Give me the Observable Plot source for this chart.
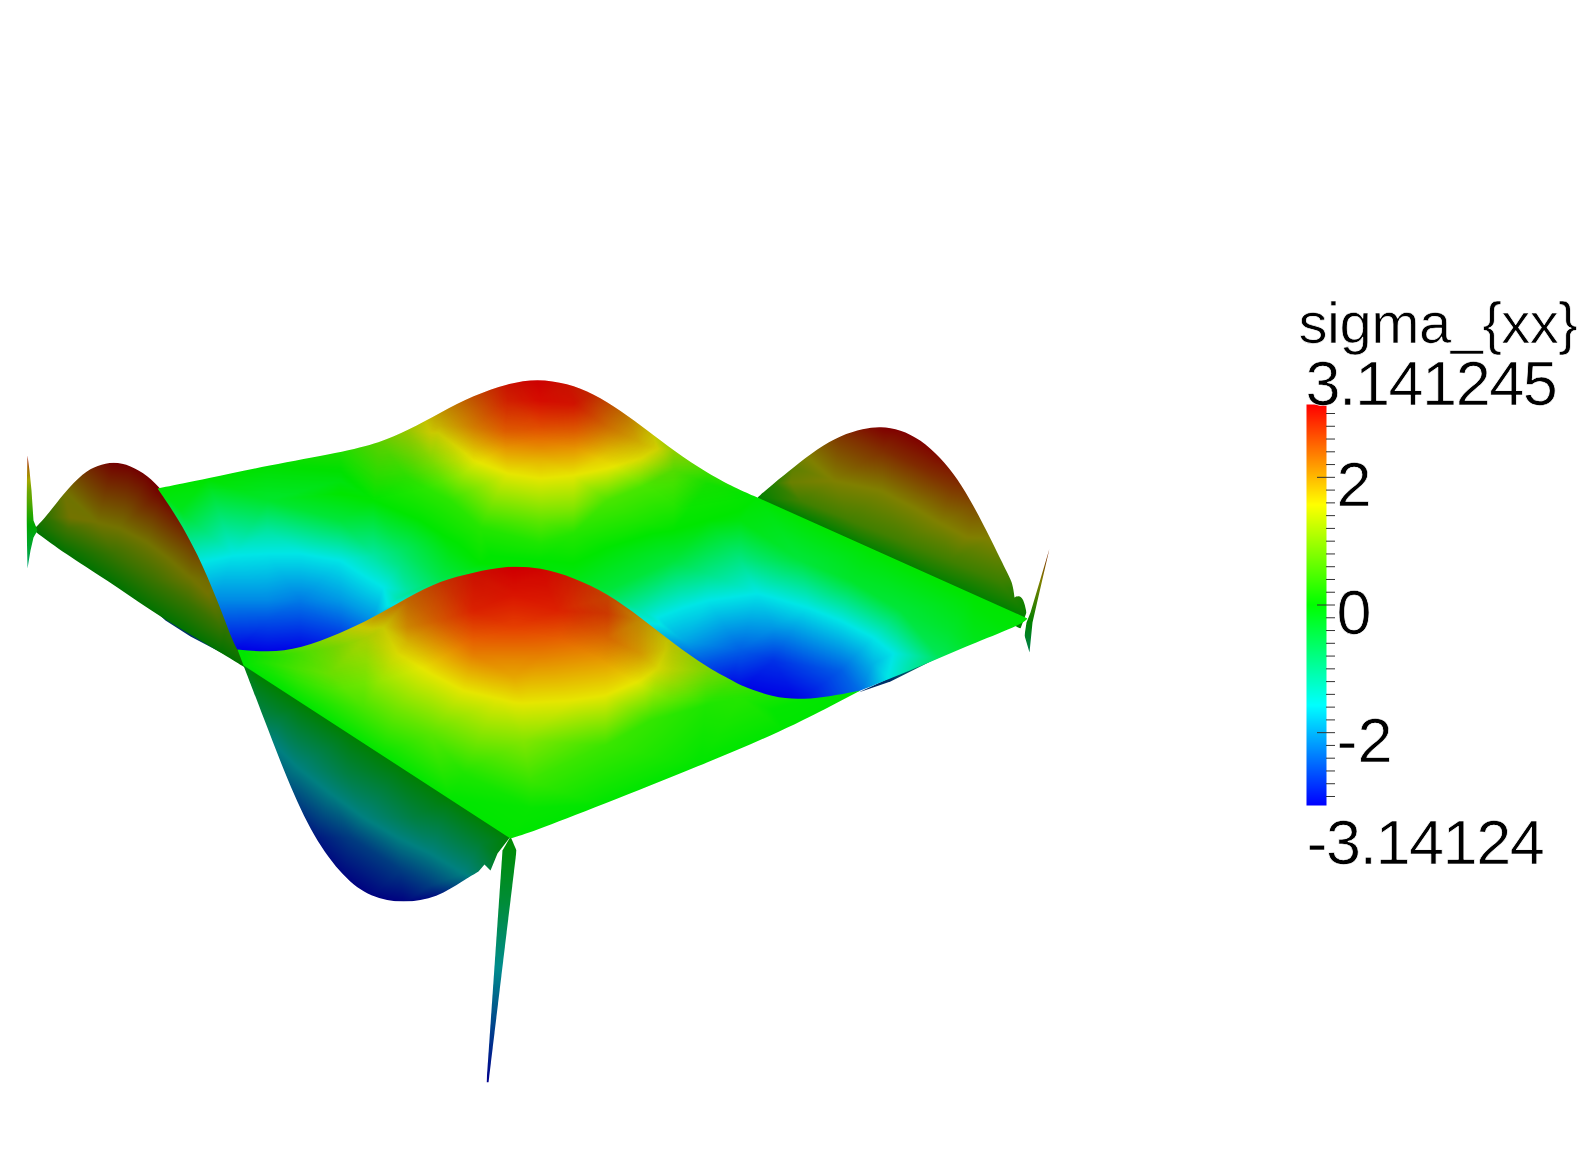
<!DOCTYPE html>
<html>
<head>
<meta charset="utf-8">
<style>
html,body{margin:0;padding:0;background:#fff}
#stage{position:relative;width:1580px;height:1150px;overflow:hidden}
#stage svg{position:absolute;background:transparent;display:block}
.bar-title text{letter-spacing:-0.5px}
.bar-range text{letter-spacing:-1.5px}
</style>
<script src="https://cdn.jsdelivr.net/npm/d3@7"></script>
<script src="https://cdn.jsdelivr.net/npm/@observablehq/plot@0.6"></script>
</head>
<body>
<div id="stage"></div>
<script>
// Colour table of the field
const fieldStops = [-3.14124, -1.5706, 0, 1.5706, 3.141245];
const fieldColors = ["#0000ff", "#00ffff", "#00ff00", "#ffff00", "#ff0000"];
const fieldTitle = "sigma_{xx}";
const fieldMaxLabel = "3.141245";
const fieldMinLabel = "-3.14124";
const majorTicks = [2, 0, -2];
const minorTicks = [3,2.8,2.6,2.4,2.2,1.8,1.6,1.4,1.2,1,0.8,0.6,0.4,0.2,-0.2,-0.4,-0.6,-0.8,-1,-1.2,-1.4,-1.6,-1.8,-2.2,-2.4,-2.6,-2.8,-3];

// Surface samples: [scene x, scene y, sigma]
// Outlines are lists of arcs; every arc is drawn as one smooth curve.
const rightWallOutline = [
 [[757,497],[773,483],[793,467],[817,448],[840,435],[863,428],[880,426],[900,429],[920,439],[940,457],[957,478],[973,505],[990,538],[1007,573],[1012,582],[1014,597]],
 [[1014,597],[1018,595],[1023,598],[1026,612]],
 [[1026,612],[1020,628]],
 [[1020,628],[770,515]],
 [[770,515],[757,497]]];
const rightWallSamples = [[757,497,0],[800,516,0],[873,550,0],[950,585,0],[1027,618,0],
 [773,483,0.5],[793,467,1.15],[817,448,1.9],[840,435,2.5],[863,428,2.9],[883,427,3.14],[900,429,3.14],[920,439,3.14],[940,457,3],[957,478,2.7],[973,505,2.2],[990,538,1.57],[1007,573,0.9],[1012,582,0.7],[1023,598,0.3],
 [800,500,0.8],[850,520,0.8],[900,540,0.8],[950,560,0.8],[1000,582,0.7],
 [790,482,1.3],[833,480,1.57],[880,490,1.57],[913,507,1.57],[940,523,1.57],[967,537,1.57],
 [883,450,2.6],[925,470,2.6],[950,490,2.4]];

const leftWallOutline = [
 [[33,529],[45,517],[63,493],[83,472],[97,465],[113,461],[130,465],[147,475],[162,490],[179,513],[195,547],[212,580],[229,620],[244,660],[246,668]],
 [[246,668],[220,652],[183,630],[150,610],[107,580],[63,552],[37,533],[33,529]]];
const leftWallSamples = [[37,533,0],[63,552,0],[107,580,0],[150,610,0],[183,630,0],[220,652,0],[243,665,0],
 [45,517,0.6],[63,493,1.5],[83,472,2.4],[97,465,2.8],[113,462,3.14],[130,465,3.14],[147,475,3.14],[160,490,3.14],[177,513,2.9],[193,547,2.3],[210,580,1.7],[227,620,0.9],[242,660,0.2],
 [70,517,1.57],[97,522,1.57],[120,528,1.57],[147,542,1.57],[167,557,1.57],[190,577,1.57],[207,593,1.57],
 [67,528,0.9],[113,553,0.8],[153,580,0.8],[187,601,0.8],[220,625,0.8]];

const leftSliverOutline = [[155,611],[187,631],[222,651],[230,657],[190,636],[165,620]];
const leftSliverSamples = [[150,600,-2.2],[190,620,-2.4],[235,650,-1.6],[150,640,-2.2],[190,650,-2.4],[235,670,-1.6]];
const rightSliverOutline = [[858,692],[890,677],[950,651],[890,681]];
const rightSliverSamples = [[840,690,-2.6],[890,670,-2.4],[950,645,-0.4],[840,710,-2.6],[890,690,-2.4],[950,665,-0.4]];

const rearOutline = [
 [[157,488],[207,478],[267,465],[340,452],[380,442],[407,430],[440,412],[473,395],[507,383],[537,378],[567,383],[593,393],[620,410],[647,430],[673,450],[707,473],[740,490],[757,497]],
 [[757,497],[1027,618]],
 [[1027,618],[1023,623],[973,643],[940,657],[890,678],[860,690]],
 [[860,690],[830,700]],
 [[830,700],[740,720]],
 [[740,720],[250,668]],
 [[250,668],[237,649]],
 [[237,649],[233,643],[217,600],[197,553],[177,517],[157,488]]];
const rearSamples = [[157,488,0],[207,478,0],[267,465,0],[340,452,0.2],[380,442,0.7],[407,430,1.2],[440,412,1.9],[473,395,2.5],[507,383,3],[537,379,3.14],[567,383,3],[593,393,2.8],[620,410,2.3],[647,430,1.7],[673,450,1.1],[707,473,0.4],[757,497,0],[873,550,0],[973,597,0],[1027,618,0],
 [540,400,3.05],[540,427,2.6],[540,447,2.2],[540,460,1.9],[540,478,1.57],[540,500,1.1],[540,520,0.65],[540,543,0.2],[540,560,0],
 [430,432,1.57],[473,460,1.57],[507,473,1.57],[573,475,1.57],[607,468,1.57],[640,458,1.57],[657,448,1.57],
 [473,427,2.2],[440,425,1.75],[507,400,2.9],[573,403,3],[607,427,2.3],[640,443,1.8],[473,450,1.75],[607,453,1.8],[505,430,2.5],[575,430,2.5],
 [430,460,0.9],[407,477,0.3],[450,500,0.3],[480,527,0.25],[420,520,0],[400,550,-0.7],[450,550,-0.1],[340,520,-0.4],[340,493,0],[373,500,0],[440,533,0],[490,555,0],
 [573,507,0.9],[573,533,0.25],[607,500,0.5],[640,487,0.5],[673,470,0.6],[707,483,0.15],[640,520,0.2],[673,530,0],[707,520,0],[740,510,0],[607,547,0],[673,560,-0.4],[707,573,-0.9],[740,520,-0.1],[740,560,-0.9],[800,560,-0.4],[850,580,-0.3],[900,610,-0.4],[950,630,-0.3],[1000,625,-0.05],
 [267,500,-0.3],[267,530,-1.1],[200,562,-1.57],[233,555,-1.57],[267,553,-1.57],[300,553,-1.57],[340,560,-1.57],[360,573,-1.57],[383,587,-1.57],[373,555,-1.1],[400,565,-0.9],
 [180,510,-0.2],[340,480,-0.1],
 [267,600,-2.2],[267,620,-2.6],[267,652,-3.14],[237,649,-3.14],[233,643,-3],[217,600,-2.2],[300,648,-3.1],[340,633,-2.7],[373,617,-2.1],[397,598,-1.2],[407,590,-1.1],[440,578,-0.5],[480,563,0],[540,563,0],[573,575,-0.1],[607,590,-0.4],[640,610,-1.2],[657,617,-1.57],[683,640,-2],[707,663,-2.6],[730,680,-3],[797,702,-3.14],[740,690,-3.14],
 [340,600,-2.1],[300,600,-2.3],[757,593,-1.57],[707,600,-1.57],[683,607,-1.57],[773,597,-1.57],[807,607,-1.57],[840,620,-1.57],[873,637,-1.57],[893,653,-1.57],
 [773,660,-2.8],[773,627,-2.1],[740,650,-2.5],[840,670,-2.5],[873,663,-1.9],[860,692,-2.4],[890,680,-1.5],[910,672,-1.1],[940,658,-0.6],[973,643,-0.2],[1023,623,0]];
// Edge darkening of the rear bump: [scene x, scene y, shade]
const rearShade = [[340,452,0.04],[380,442,0.1],[407,430,0.14],[440,412,0.17],[473,395,0.17],[507,383,0.13],[537,379,0.11],[567,383,0.13],[593,393,0.17],[620,410,0.18],[647,430,0.15],[673,450,0.1],[707,473,0.04],[757,497,0],
 [375,500,0],[420,490,0],[460,475,0],[500,450,0],[537,440,0],[580,450,0],[620,470,0],[650,490,0],[680,510,0],[157,488,0],[1027,618,0],[540,560,0]];

const frontOutline = [
 [[237,649],[267,652],[300,648],[340,633],[373,617],[407,597],[440,580],[473,572],[507,565],[540,567],[573,577],[607,593],[640,617],[673,643],[707,667],[730,679],[740,685],[773,697],[797,699],[823,697],[860,690]],
 [[860,690],[837,702]],
 [[837,702],[783,730],[700,765],[600,805],[530,832],[510,838]],
 [[510,838],[243,665]],
 [[243,665],[237,649]]];
const frontSamples = [[243,665,0],[300,702,0],[380,755,0],[450,800,0],[510,838,0],[600,805,0],[700,765,0],[783,730,0],[837,702,0],[860,692,0],[797,702,0.02],[773,710,0.02],
 [243,653,0],[267,657,0.2],[300,657,0.5],[333,647,0.85],[367,637,1.3],[373,620,1.8],[407,600,2.3],[440,582,2.7],[473,574,3],[513,570,3.14],[540,570,3.1],[573,580,2.9],[607,597,2.6],[640,620,2],[673,647,1.45],[707,670,0.9],[730,682,0.5],[740,697,0.25],
 [513,593,3],[513,627,2.7],[513,660,2.2],[513,677,2],[513,702,1.57],[397,653,1.57],[430,673,1.57],[463,690,1.57],[497,698,1.57],[523,703,1.57],[570,700,1.57],[605,695,1.57],[640,680,1.57],[657,668,1.57],[383,627,1.57],
 [440,620,2.5],[407,643,1.8],[407,627,2.1],[473,653,2.3],[540,653,2.3],[607,637,2.4],[640,653,2],[473,610,2.9],[557,610,2.9],[607,613,2.7],
 [523,740,0.9],[530,780,0.4],[530,807,0.05],[523,830,0],[363,707,0.5],[330,673,0.75],[297,668,0.5],[263,662,0.2],[397,707,0.8],[430,733,0.6],[463,773,0.2],[605,745,0.4],[705,705,0.2],[650,720,0.35]];
const frontShade = [[300,648,0.04],[340,633,0.1],[373,617,0.16],[407,597,0.18],[440,580,0.16],[473,572,0.12],[513,566,0.1],[540,567,0.1],[573,577,0.12],[607,593,0.16],[640,617,0.18],[673,643,0.16],[707,667,0.08],[730,679,0.04],[797,699,0],
 [330,690,0],[385,680,0],[430,665,0],[470,640,0],[513,630,0],[560,640,0],[600,660,0],[630,680,0],[670,700,0],[243,665,0],[510,838,0],[837,702,0]];

const frontWallOutline = [
 [[243,665],[263,717],[287,780],[313,837],[343,877],[370,897],[403,903],[437,897],[463,880],[478,871]],
 [[478,871],[484,864]],[[484,864],[490,870]],[[490,870],[497,853]],[[497,853],[510,836]],
 [[510,836],[510,820]],[[510,820],[270,665]],[[270,665],[243,665]]];
const frontWallSamples = [[243,665,-0.2],[255,673,0],[300,702,0],[350,733,0],[400,765,0],[450,797,0],[510,835,0],
 [263,717,-0.9],[287,780,-2],[313,837,-2.9],[343,877,-3.1],[370,897,-3.14],[403,903,-3.14],[437,897,-3],[463,880,-1.9],[483,870,-1],[490,870,-0.7],[497,853,-0.3],
 [280,720,-0.8],[347,773,-0.8],[413,817,-0.8],[480,843,-0.6],
 [273,743,-1.57],[297,767,-1.57],[330,793,-1.57],[363,817,-1.57],[397,837,-1.57],[430,853,-1.57],[463,873,-1.57],
 [300,806,-2.4],[350,837,-2.4],[400,869,-2.4],[430,885,-2.4]];

const spikeOutlineLeft = [[27,455],[29,470],[31,490],[33,520],[37,530],[33,537],[30,550],[27,568],[26,520],[26,497]];
const spikeSamplesLeft = [[27,455,3],[29,470,2],[27,497,0.9],[31,490,1],[34,525,0],[26,525,0],[30,550,-0.5],[27,568,-1.2],[40,500,1],[40,570,-1.2],[15,500,1],[15,570,-1.2],[15,455,3],[40,455,3]];
const spikeOutlineBottom = [[510,836],[516,850],[488,1082],[486,1082],[502,850]];
const spikeSamplesBottom = [[500,838,0],[525,838,0],[500,900,-0.6],[525,900,-0.6],[480,990,-1.9],[510,990,-1.9],[475,1082,-3.14],[500,1082,-3.14]];
const spikeOutlineRight = [[1049,548],[1032,622],[1029,652],[1024,635],[1026,622],[1030,612]];
const spikeSamplesRight = [[1040,548,2.8],[1055,548,2.8],[1022,622,0],[1040,622,0],[1022,652,-1],[1040,652,-1]];

const colorOptions = {type: "linear", domain: fieldStops, range: fieldColors, interpolate: "rgb", clamp: true};

function outlinePath(outline, scales) {
  const px = d => scales.x(d[0]), py = d => scales.y(d[1]);
  if (typeof outline[0][0] === "number") return d3.line().x(px).y(py).curve(d3.curveLinearClosed)(outline);
  const smooth = d3.line().x(px).y(py).curve(d3.curveBasis);
  return outline.map((arc, i) => { const s = smooth(arc); return i ? "L" + s.slice(1) : s; }).join("") + "Z";
}
let clipCount = 0;
function clipped(outline, brightness) {
  return function (index, scales, values, dimensions, context, next) {
    const g = next(index, scales, values, dimensions, context);
    const id = "surface-clip-" + (++clipCount);
    const cp = document.createElementNS("http://www.w3.org/2000/svg", "clipPath");
    cp.setAttribute("id", id);
    const p = document.createElementNS("http://www.w3.org/2000/svg", "path");
    p.setAttribute("d", outlinePath(outline, scales));
    cp.appendChild(p);
    g.appendChild(cp);
    g.querySelector("image").setAttribute("clip-path", `url(#${id})`);
    if (brightness != null) g.style.filter = `brightness(${brightness})`;
    return g;
  };
}
const patch = (samples, outline, brightness) => Plot.raster(samples, {
  x: d => d[0], y: d => d[1], fill: d => d[2],
  interpolate: "barycentric",
  render: clipped(outline, brightness)
});
const shadePatch = (samples, outline) => Plot.raster(samples, {
  x: d => d[0], y: d => d[1], fill: "black", fillOpacity: d => d[2],
  interpolate: "barycentric",
  render: clipped(outline)
});

const surface = Plot.plot({
  width: 1580, height: 1150, margin: 0,
  x: {domain: [0, 1580], axis: null},
  y: {domain: [1150, 0], axis: null},
  color: colorOptions,
  opacity: {domain: [0, 1], range: [0, 1]},
  marks: [
    patch(rightWallSamples, rightWallOutline, 0.5),
    patch(leftSliverSamples, leftSliverOutline, 0.4),
    patch(leftWallSamples, leftWallOutline, 0.45),
    patch(spikeSamplesLeft, spikeOutlineLeft, 0.65),
    patch(spikeSamplesRight, spikeOutlineRight, 0.5),
    patch(rightSliverSamples, rightSliverOutline, 0.4),
    patch(rearSamples, rearOutline, 0.9),
    shadePatch(rearShade, rearOutline),
    patch(frontWallSamples, frontWallOutline, 0.5),
    patch(spikeSamplesBottom, spikeOutlineBottom, 0.55),
    patch(frontSamples, frontOutline, 0.9),
    shadePatch(frontShade, frontOutline)
  ]
});
surface.style.left = "0px"; surface.style.top = "0px";

const labelFont = {fontFamily: "Liberation Sans, sans-serif", fontWeight: 400, fill: "#000", textAnchor: "start", stroke: "#fff", strokeWidth: 0.7, paintOrder: "fill", lineAnchor: "bottom"};
const legend = Plot.plot({
  width: 300, height: 600, margin: 0,
  marginTop: 114, marginBottom: 85,
  x: {domain: [0, 300], axis: null},
  y: {domain: [-3.14124, 3.141245], axis: null},
  color: colorOptions,
  marks: [
    Plot.raster({fill: (x, y) => y, x1: 26, x2: 46, y1: -3.14124, y2: 3.141245, pixelSize: 1}),
    Plot.ruleY(minorTicks, {x1: 46, x2: 55, stroke: "#333", strokeWidth: 1}),
    Plot.ruleY(majorTicks, {x1: 37, x2: 55, stroke: "#333", strokeWidth: 1}),
    Plot.text(majorTicks, {x: 56, y: d => d, text: d => String(d), dy: 29, fontSize: 63, ...labelFont}),
    Plot.text([fieldMaxLabel], {x: 25, y: () => 3.141245, text: d => d, dy: 0, fontSize: 63, className: "bar-range", ...labelFont}),
    Plot.text([fieldTitle], {x: 18, y: () => 3.141245, text: d => d, dy: -62, fontSize: 58, className: "bar-title", ...labelFont}),
    Plot.text([fieldMinLabel], {x: 26, y: () => -3.14124, text: d => d, dy: 58, fontSize: 63, className: "bar-range", ...labelFont})
  ]
});
legend.style.left = "1280px"; legend.style.top = "290px";

const stage = document.getElementById("stage");
stage.appendChild(surface);
stage.appendChild(legend);
</script>
</body>
</html>
